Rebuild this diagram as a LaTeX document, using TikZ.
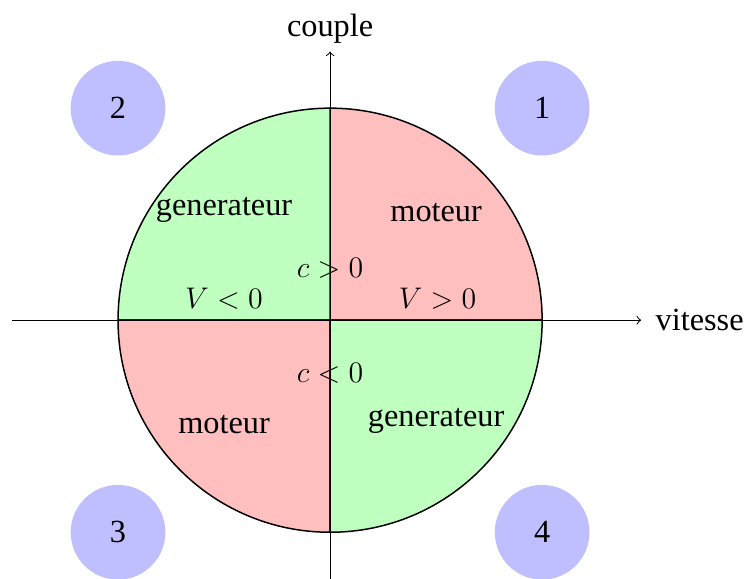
\documentclass[tikz,border=0pt]{standalone}
\usepackage{fontspec}
\setmainfont{Liberation Serif}
\tikzset{
  sector/.style={draw=black, line width=0.6pt},
  num/.style={circle, fill=blue!25, minimum size=1.34cm, inner sep=0pt},
  lbl/.style={inner sep=0pt},
  mlbl/.style={inner sep=0pt, font=\fontsize{11.5}{14}\selectfont},
  axis/.style={->, line width=0.4pt}
}
\begin{document}
\begin{tikzpicture}[font=\fontsize{13}{15.5}\selectfont]
\useasboundingbox (-4.67,-3.66) rectangle (5.87,4.53);
\coordinate (O) at (0,0);
\coordinate (xl) at (-4.5,0);
\coordinate (xr) at (4.4,0);
\coordinate (yb) at (0,-3.66);
\coordinate (yt) at (0,3.8);
\draw[axis] (xl) -- (xr);
\draw[axis] (yb) -- (yt);
\node[anchor=west, inner sep=0pt, xshift=0.2cm] (vit) at (xr) {vitesse};
\node[anchor=south, inner sep=3pt] (cpl) at (yt) {couple};
\filldraw[sector, fill=red!25] (O) -- (3,0) arc (0:90:3) -- cycle;
\filldraw[sector, fill=green!25] (O) -- (0,3) arc (90:180:3) -- cycle;
\filldraw[sector, fill=red!25] (O) -- (-3,0) arc (180:270:3) -- cycle;
\filldraw[sector, fill=green!25] (O) -- (0,-3) arc (270:360:3) -- cycle;
\node[num] (n1) at (3,3) {1};
\node[num] (n2) at (-3,3) {2};
\node[num] (n3) at (-3,-3) {3};
\node[num] (n4) at (3,-3) {4};
\node[lbl] (g1) at (-1.5,1.56) {generateur};
\node[lbl] (m1) at (1.5,1.52) {moteur};
\node[mlbl] (vn) at (-1.5,0.31) {$V<0$};
\node[mlbl] (vp) at (1.52,0.31) {$V>0$};
\node[mlbl] (cp) at (0,0.73) {$c>0$};
\node[mlbl] (cn) at (0,-0.75) {$c<0$};
\node[lbl] (g2) at (1.5,-1.43) {generateur};
\node[lbl] (m2) at (-1.5,-1.47) {moteur};
\end{tikzpicture}
\end{document}
